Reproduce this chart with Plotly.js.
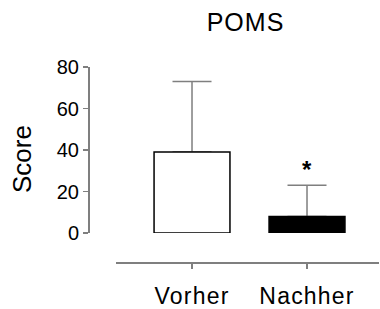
<!DOCTYPE html>
<html>
<head>
<meta charset="utf-8">
<script src="https://cdn.plot.ly/plotly-3.0.1.min.js"></script>
<style>
html,body{margin:0;padding:0;background:#fff;}
#chart{width:380px;height:309px;}
#chart .xtick text{letter-spacing:1.2px;}
#chart .gtitle{letter-spacing:1px;}
</style>
</head>
<body>
<div id="chart"></div>
<script>
var categories = ["Vorher", "Nachher"];
var means = [39, 8];
var errorsUp = [34, 15];
var errorsDown = [0, 0];
var fillColors = ["#ffffff", "#000000"];
var yTickValues = [0, 20, 40, 60, 80];
var significance = ["", "*"];

var font = "Arial, 'Liberation Sans', Helvetica, sans-serif";
var axisGray = "#7f7f7f";

var errTrace = {
  type: "bar",
  x: categories,
  y: means,
  width: 0.66,
  marker: {color: "rgba(0,0,0,0)", line: {width: 0}},
  error_y: {
    type: "data", symmetric: false,
    array: errorsUp, arrayminus: errorsDown,
    color: axisGray, thickness: 1.5, width: 19.5
  },
  hoverinfo: "skip",
  showlegend: false
};

var barTrace = {
  type: "bar",
  x: categories,
  y: means,
  width: 0.66,
  marker: {color: fillColors, line: {color: "#000000", width: 1.5}},
  showlegend: false
};

var annotations = [];
categories.forEach(function (c, i) {
  if (significance[i]) {
    annotations.push({
      x: c, y: means[i] + errorsUp[i], xref: "x", yref: "y",
      text: significance[i], showarrow: false,
      yanchor: "bottom", yshift: 0,
      font: {family: font, size: 24, color: "#000", weight: "bold"}
    });
  }
});
annotations.push({
  xref: "paper", yref: "paper", x: -0.2268, y: 0.528,
  text: "Score", textangle: -90, showarrow: false,
  xanchor: "center", yanchor: "middle",
  font: {family: font, size: 26, color: "#000"}
});

var layout = {
  width: 380, height: 309,
  margin: {l: 88, r: 1, t: 67, b: 47, pad: 0},
  paper_bgcolor: "#fff", plot_bgcolor: "#fff",
  barmode: "overlay",
  title: {
    text: "POMS",
    font: {family: font, size: 25, color: "#000"},
    xref: "container", yref: "container",
    x: 245.5 / 380, y: 1 - 22 / 309,
    xanchor: "center", yanchor: "middle"
  },
  xaxis: {
    type: "category",
    domain: [28 / 291, 1],
    range: [-0.661, 1.626],
    anchor: "free", position: 0,
    showline: true, linecolor: axisGray, linewidth: 1.5,
    ticks: "outside", ticklen: 5, tickwidth: 1.5, tickcolor: axisGray,
    ticklabelstandoff: 8,
    tickfont: {family: font, size: 23, color: "#000"},
    showgrid: false, zeroline: false
  },
  yaxis: {
    range: [0, 80],
    domain: [29 / 195, 1],
    anchor: "free", position: 0,
    showline: true, linecolor: axisGray, linewidth: 1.5,
    ticks: "outside", ticklen: 5, tickwidth: 1.5, tickcolor: axisGray,
    tickvals: yTickValues,
    tickfont: {family: font, size: 20, color: "#000"},
    showgrid: false, zeroline: false
  },
  annotations: annotations,
  showlegend: false
};

Plotly.newPlot("chart", [errTrace, barTrace], layout, {staticPlot: true, displayModeBar: false});
</script>
</body>
</html>
